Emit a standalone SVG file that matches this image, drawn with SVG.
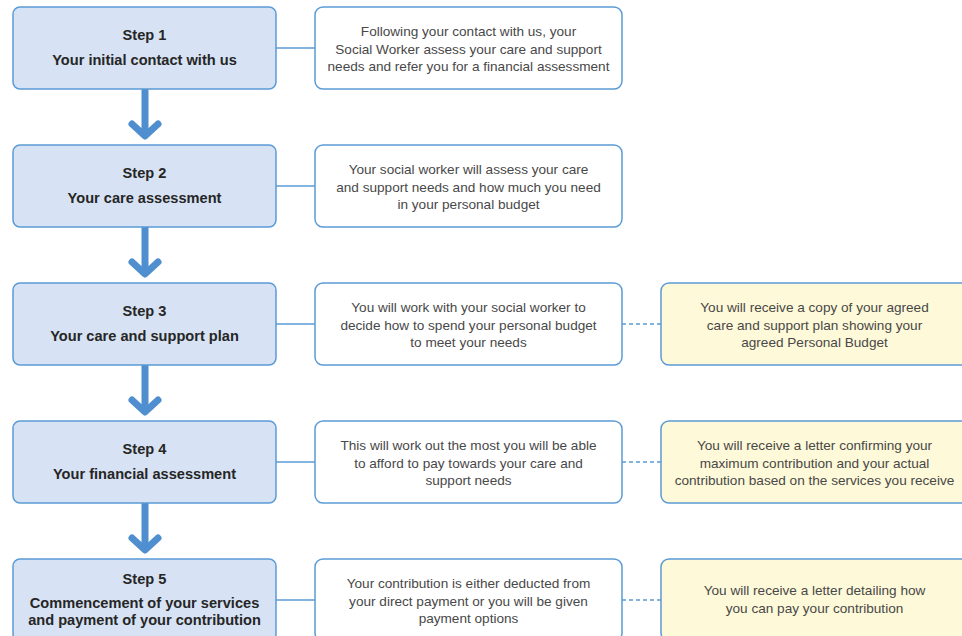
<svg xmlns="http://www.w3.org/2000/svg" width="962" height="636" viewBox="0 0 962 636">
<style>
.step{fill:#d7e3f4;stroke:#5b9bd5;stroke-width:1.5}
.mid{fill:#ffffff;stroke:#5b9bd5;stroke-width:1.5}
.note{fill:#fef9d8;stroke:#5b9bd5;stroke-width:1.5}
.st{font-family:"Liberation Sans",Arial,sans-serif;font-weight:bold;font-size:14.6px;fill:#262626;text-anchor:middle}
.bt{font-family:"Liberation Sans",Arial,sans-serif;font-size:13.6px;fill:#484848;text-anchor:middle}
.solid{stroke:#5b9bd5;stroke-width:1.5;fill:none}
.dash{stroke:#5b9bd5;stroke-width:1.5;fill:none;stroke-dasharray:4 3}
.arr{stroke:#4f8fcf;stroke-width:7;fill:none;stroke-linecap:round;stroke-linejoin:round}
</style>
<rect width="962" height="636" fill="#ffffff"/>
<g id="connectors">
  <line class="solid" x1="276" y1="48" x2="315" y2="48"/>
  <line class="solid" x1="276" y1="186" x2="315" y2="186"/>
  <line class="solid" x1="276" y1="324" x2="315" y2="324"/>
  <line class="solid" x1="276" y1="462" x2="315" y2="462"/>
  <line class="solid" x1="276" y1="600" x2="315" y2="600"/>
  <line class="dash" x1="622" y1="324" x2="661" y2="324"/>
  <line class="dash" x1="622" y1="462" x2="661" y2="462"/>
  <line class="dash" x1="622" y1="600" x2="661" y2="600"/>
  <g id="arrow1"><line class="arr" x1="145" y1="90" x2="145" y2="134"/><polyline class="arr" points="132,124 145,136 158,124"/></g>
  <g id="arrow2"><line class="arr" x1="145" y1="228" x2="145" y2="272"/><polyline class="arr" points="132,262 145,274 158,262"/></g>
  <g id="arrow3"><line class="arr" x1="145" y1="366" x2="145" y2="410"/><polyline class="arr" points="132,400 145,412 158,400"/></g>
  <g id="arrow4"><line class="arr" x1="145" y1="504" x2="145" y2="548"/><polyline class="arr" points="132,538 145,550 158,538"/></g>
</g>
<g id="step1"><rect class="step" x="13" y="7" width="263" height="82" rx="7"/>
  <text class="st" x="144.5" y="40">Step 1</text><text class="st" x="144.5" y="65">Your initial contact with us</text></g>
<g id="step2"><rect class="step" x="13" y="145" width="263" height="82" rx="7"/>
  <text class="st" x="144.5" y="178">Step 2</text><text class="st" x="144.5" y="203">Your care assessment</text></g>
<g id="step3"><rect class="step" x="13" y="283" width="263" height="82" rx="7"/>
  <text class="st" x="144.5" y="316">Step 3</text><text class="st" x="144.5" y="341">Your care and support plan</text></g>
<g id="step4"><rect class="step" x="13" y="421" width="263" height="82" rx="7"/>
  <text class="st" x="144.5" y="454">Step 4</text><text class="st" x="144.5" y="479">Your financial assessment</text></g>
<g id="step5"><rect class="step" x="13" y="559" width="263" height="82" rx="7"/>
  <text class="st" x="144.5" y="584">Step 5</text><text class="st" x="144.5" y="608">Commencement of your services</text><text class="st" x="144.5" y="625">and payment of your contribution</text></g>

<g id="info1"><rect class="mid" x="315" y="7" width="307" height="82" rx="8"/>
  <text class="bt" x="468.5" y="36">Following your contact with us, your</text>
  <text class="bt" x="468.5" y="53.5">Social Worker assess your care and support</text>
  <text class="bt" x="468.5" y="71">needs and refer you for a financial assessment</text></g>
<g id="info2"><rect class="mid" x="315" y="145" width="307" height="82" rx="8"/>
  <text class="bt" x="468.5" y="174">Your social worker will assess your care</text>
  <text class="bt" x="468.5" y="191.5">and support needs and how much you need</text>
  <text class="bt" x="468.5" y="209">in your personal budget</text></g>
<g id="info3"><rect class="mid" x="315" y="283" width="307" height="82" rx="8"/>
  <text class="bt" x="468.5" y="312">You will work with your social worker to</text>
  <text class="bt" x="468.5" y="329.5">decide how to spend your personal budget</text>
  <text class="bt" x="468.5" y="347">to meet your needs</text></g>
<g id="info4"><rect class="mid" x="315" y="421" width="307" height="82" rx="8"/>
  <text class="bt" x="468.5" y="450">This will work out the most you will be able</text>
  <text class="bt" x="468.5" y="467.5">to afford to pay towards your care and</text>
  <text class="bt" x="468.5" y="485">support needs</text></g>
<g id="info5"><rect class="mid" x="315" y="559" width="307" height="82" rx="8"/>
  <text class="bt" x="468.5" y="588">Your contribution is either deducted from</text>
  <text class="bt" x="468.5" y="605.5">your direct payment or you will be given</text>
  <text class="bt" x="468.5" y="623">payment options</text></g>

<g id="note3"><rect class="note" x="661" y="283" width="310" height="82" rx="8"/>
  <text class="bt" x="814.5" y="312">You will receive a copy of your agreed</text>
  <text class="bt" x="814.5" y="329.5">care and support plan showing your</text>
  <text class="bt" x="814.5" y="347">agreed Personal Budget</text></g>
<g id="note4"><rect class="note" x="661" y="421" width="310" height="82" rx="8"/>
  <text class="bt" x="814.5" y="450">You will receive a letter confirming your</text>
  <text class="bt" x="814.5" y="467.5">maximum contribution and your actual</text>
  <text class="bt" x="814.5" y="485">contribution based on the services you receive</text></g>
<g id="note5"><rect class="note" x="661" y="559" width="310" height="82" rx="8"/>
  <text class="bt" x="814.5" y="595">You will receive a letter detailing how</text>
  <text class="bt" x="814.5" y="612.5">you can pay your contribution</text></g>
</svg>
